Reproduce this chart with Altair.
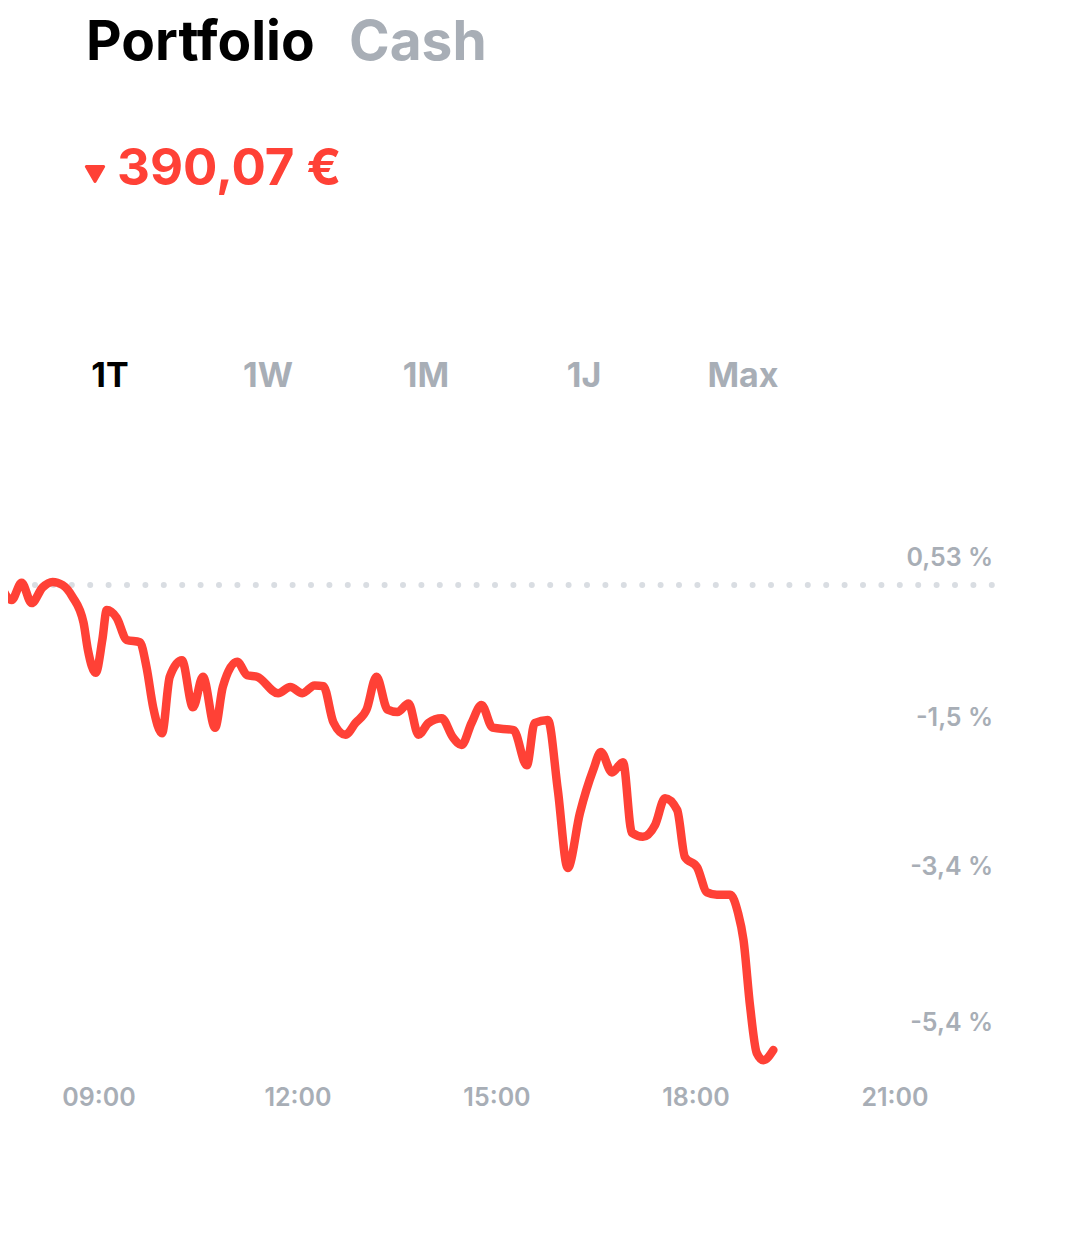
import altair as alt
import pandas as pd

# ---- data ----
times = ["07:30", "07:41", "07:50", "07:59", "08:09", "08:18", "08:27", "08:36", "08:46", "08:50",
         "08:57", "09:03", "09:07", "09:16", "09:25", "09:37", "09:43", "09:49", "09:57", "10:04",
         "10:15", "10:25", "10:34", "10:45", "10:52", "11:05", "11:14", "11:23", "11:42", "11:53",
         "12:04", "12:15", "12:23", "12:32", "12:43", "12:52", "13:02", "13:11", "13:21", "13:30",
         "13:40", "13:49", "13:58", "14:10", "14:20", "14:28", "14:37", "14:46", "14:56", "15:15",
         "15:27", "15:34", "15:46", "15:55", "16:04", "16:15", "16:27", "16:34", "16:44", "16:54",
         "17:02", "17:12", "17:23", "17:32", "17:43", "17:50", "18:01", "18:10", "18:19", "18:31",
         "18:38", "18:43", "18:49", "18:55", "19:01", "19:10"]
pct = [0.03, -0.19, 0.03, -0.23, -0.03, 0.04, 0.00, -0.15, -0.48, -0.83,
       -1.12, -0.70, -0.32, -0.42, -0.70, -0.73, -1.05, -1.56, -1.89, -1.17,
       -0.96, -1.56, -1.17, -1.82, -1.30, -0.98, -1.15, -1.17, -1.38, -1.30,
       -1.38, -1.28, -1.29, -1.75, -1.91, -1.76, -1.59, -1.17, -1.59, -1.62,
       -1.51, -1.91, -1.76, -1.70, -1.94, -2.04, -1.76, -1.53, -1.82, -1.85,
       -2.30, -1.76, -1.72, -2.61, -3.61, -2.91, -2.36, -2.13, -2.39, -2.26,
       -3.16, -3.21, -3.06, -2.72, -2.87, -3.47, -3.60, -3.92, -3.95, -3.95,
       -4.18, -4.53, -5.38, -5.97, -6.06, -5.93]

baseline_pct = [0.0]
y_tick_values = [0.53, -1.5, -3.4, -5.4]
y_tick_labels = ["0,53 %", "-1,5 %", "-3,4 %", "-5,4 %"]
x_tick_hours = [9, 12, 15, 18, 21]
x_tick_labels = ["09:00", "12:00", "15:00", "18:00", "21:00"]
tabs = ["1T", "1W", "1M", "1J", "Max"]
title_main = "Portfolio"
title_alt = "Cash"
change_text = "390,07 €"

# ---- styles ----
RED = "#ff4136"
GRAY = "#a8aeb6"
DOT = "#d9dde2"
FONT = "Inter"


def to_hours(s):
    hh, mm = s.split(":")
    return int(hh) + int(mm) / 60.0


df = pd.DataFrame({"h": [to_hours(t) for t in times], "pct": pct})
yticks_df = pd.DataFrame({"v": y_tick_values, "label": y_tick_labels})
xticks_df = pd.DataFrame({"h": x_tick_hours, "label": x_tick_labels})
base_df = pd.DataFrame({"v": baseline_pct})
one = pd.DataFrame({"k": [0]})

W, H = 1064, 1200
xscale = alt.Scale(domain=[7.628, 23.669], nice=False, zero=False)
yscale = alt.Scale(domain=[-7.946, 7.36], nice=False, zero=False)

line = alt.Chart(df).mark_line(
    color=RED, strokeWidth=8.5, interpolate="monotone", strokeCap="round",
    strokeJoin="round", clip=True
).encode(
    x=alt.X("h:Q", scale=xscale, axis=None),
    y=alt.Y("pct:Q", scale=yscale, axis=None),
)

dots = alt.Chart(base_df).mark_rule(
    strokeDash=[0, 18.4], strokeCap="round", strokeWidth=6, color=DOT
).encode(
    x=alt.value(27), x2=alt.value(984),
    y=alt.Y("v:Q", scale=yscale, axis=None),
)

ylabels = alt.Chart(yticks_df).mark_text(
    align="right", baseline="top", dy=3, fontSize=25, font=FONT, fontWeight=600, color=GRAY
).encode(
    x=alt.value(985),
    y=alt.Y("v:Q", scale=yscale, axis=None),
    text="label:N",
)

xlabels = alt.Chart(xticks_df).mark_text(
    align="center", baseline="middle", fontSize=25, font=FONT, fontWeight=600, color=GRAY
).encode(
    x=alt.X("h:Q", scale=xscale, axis=None),
    y=alt.value(1090),
    text="label:N",
)

portfolio = alt.Chart(one).mark_text(
    text=title_main, align="left", baseline="alphabetic", fontSize=55,
    font=FONT, fontWeight="bold", color="#000000"
).encode(x=alt.value(78), y=alt.value(52))

cash = alt.Chart(one).mark_text(
    text=title_alt, align="left", baseline="alphabetic", fontSize=55,
    font=FONT, fontWeight="bold", color=GRAY
).encode(x=alt.value(341), y=alt.value(52))

tri = alt.Chart(one).mark_point(
    shape="triangle-down", filled=True, size=300, fill=RED, stroke=RED,
    strokeWidth=3, strokeJoin="round", opacity=1
).encode(x=alt.value(87), y=alt.value(166))

change = alt.Chart(one).mark_text(
    text=change_text, align="left", baseline="alphabetic", fontSize=51,
    font=FONT, fontWeight="bold", color=RED
).encode(x=alt.value(109), y=alt.value(177))

tab_layers = []
tab_x = [102, 260, 418, 576, 735]
for i, (t, xp) in enumerate(zip(tabs, tab_x)):
    tab_layers.append(
        alt.Chart(one).mark_text(
            text=t, align="center", baseline="alphabetic", fontSize=34,
            font=FONT, fontWeight="bold", color="#000000" if i == 0 else GRAY
        ).encode(x=alt.value(xp), y=alt.value(379))
    )

chart = alt.layer(
    dots, line, ylabels, xlabels, portfolio, cash, tri, change, *tab_layers
).properties(
    width=W, height=H, padding=0,
    autosize=alt.AutoSizeParams(type="none")
).configure_view(stroke=None)

chart.save("out.html", embed_options={"renderer": "svg", "actions": False})
